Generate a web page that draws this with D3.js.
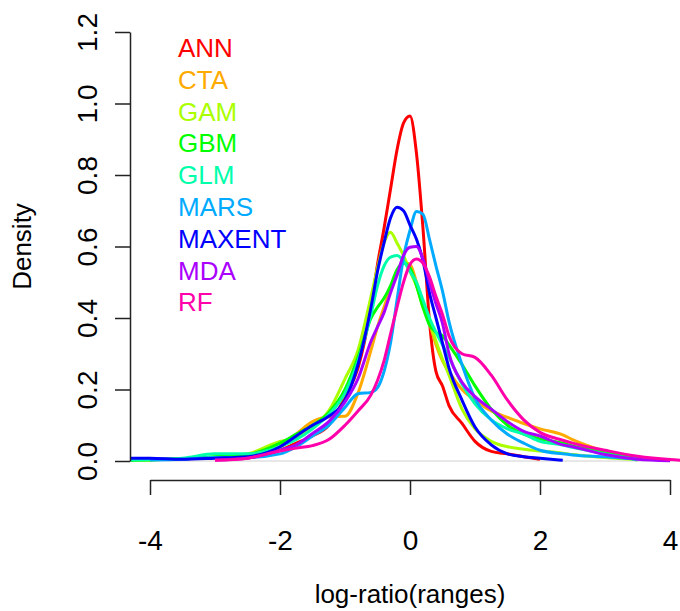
<!DOCTYPE html>
<html>
<head>
<meta charset="utf-8">
<script src="https://cdn.jsdelivr.net/npm/d3@7"></script>
<style>
  body { margin: 0; background: #fff; }
  text { font-family: "Liberation Sans", Arial, sans-serif; }
</style>
</head>
<body>
<div id="chart"></div>
<script>
// grid of x values (log-ratio of ranges) where the densities were read
var xGrid = [-4.3, -4, -3.5, -3, -2.5, -2, -1.75, -1.5, -1.25, -1, -0.8, -0.6, -0.5, -0.4, -0.3, -0.2, -0.1,
             0, 0.1, 0.2, 0.3, 0.4, 0.5, 0.6, 0.8, 1, 1.25, 1.5, 1.75, 2, 2.35, 2.5, 3, 3.5, 4, 4.2];

var models = ["ANN", "CTA", "GAM", "GBM", "GLM", "MARS", "MAXENT", "MDA", "RF"];
var colors = ["#FF0000", "#FFAA00", "#AAFF00", "#00FF00", "#00FFAA", "#00AAFF", "#0000FF", "#AA00FF", "#FF00AA"];

var ann    = [null, null, null, 0.004, 0.01, 0.03, 0.05, 0.07, 0.1, 0.18, 0.26, 0.43, 0.55, 0.65, 0.76, 0.87, 0.945,
              0.965, 0.86, 0.65, 0.39, 0.25, 0.21, 0.155, 0.105, 0.055, 0.027, 0.02, 0.012, 0.005, null, null, null, null, null, null];
var cta    = [null, null, null, null, 0.008, 0.04, 0.075, 0.11, 0.124, 0.125, 0.19, 0.31, 0.375, 0.43, 0.48, 0.52, 0.555,
              0.55, 0.5, 0.44, 0.385, 0.325, 0.28, 0.25, 0.2, 0.17, 0.14, 0.122, 0.105, 0.09, 0.073, 0.06, 0.027, 0.003, null, null];
var gam    = [0.002, 0.003, 0.006, 0.012, 0.02, 0.055, 0.065, 0.095, 0.14, 0.23, 0.31, 0.46, 0.54, 0.61, 0.64, 0.61, 0.575,
              0.53, 0.49, 0.43, 0.39, 0.335, 0.285, 0.24, 0.145, 0.09, 0.055, 0.04, 0.033, 0.028, 0.022, 0.018, 0.01, 0.004, null, null];
var gbm    = [0.002, 0.003, 0.006, 0.012, 0.018, 0.05, 0.075, 0.1, 0.135, 0.2, 0.29, 0.4, 0.43, 0.455, 0.49, 0.535, 0.553,
              0.54, 0.49, 0.43, 0.38, 0.36, 0.35, 0.325, 0.27, 0.21, 0.145, 0.1, 0.075, 0.062, 0.05, 0.042, 0.025, 0.01, 0.002, null];
var glm    = [0.003, 0.004, 0.008, 0.02, 0.02, 0.04, 0.06, 0.09, 0.13, 0.19, 0.28, 0.41, 0.49, 0.545, 0.57, 0.575, 0.56,
              0.53, 0.5, 0.45, 0.4, 0.36, 0.325, 0.29, 0.215, 0.16, 0.115, 0.09, 0.075, 0.055, 0.045, 0.038, 0.02, 0.003, null, null];
var mars   = [null, 0.003, 0.005, 0.01, 0.01, 0.02, 0.04, 0.07, 0.1, 0.15, 0.188, 0.192, 0.205, 0.25, 0.33, 0.45, 0.57,
              0.645, 0.698, 0.69, 0.62, 0.545, 0.475, 0.39, 0.27, 0.175, 0.115, 0.075, 0.05, 0.03, 0.02, 0.017, 0.012, 0.006, 0.002, null];
var maxent = [0.008, 0.008, 0.005, 0.008, 0.012, 0.04, 0.07, 0.1, 0.125, 0.17, 0.27, 0.43, 0.53, 0.61, 0.68, 0.71, 0.7,
              0.66, 0.62, 0.56, 0.47, 0.4, 0.33, 0.26, 0.17, 0.095, 0.045, 0.02, 0.012, 0.008, 0.002, null, null, null, null, null];
var mda    = [null, null, null, 0.003, 0.008, 0.03, 0.045, 0.077, 0.11, 0.165, 0.23, 0.335, 0.375, 0.415, 0.47, 0.52, 0.575,
              0.598, 0.6, 0.565, 0.5, 0.44, 0.385, 0.3, 0.22, 0.18, 0.145, 0.11, 0.083, 0.07, 0.045, 0.04, 0.018, 0.005, 0.001, null];
var rf     = [null, null, null, 0.002, 0.008, 0.028, 0.036, 0.043, 0.06, 0.1, 0.14, 0.185, 0.225, 0.28, 0.355, 0.43, 0.5,
              0.55, 0.565, 0.553, 0.515, 0.46, 0.41, 0.35, 0.3, 0.29, 0.24, 0.17, 0.115, 0.08, 0.058, 0.05, 0.03, 0.013, 0.004, 0.002];

var seriesValues = [ann, cta, gam, gbm, glm, mars, maxent, mda, rf];

var xTicks = [-4, -2, 0, 2, 4];
var yTicks = [0, 0.2, 0.4, 0.6, 0.8, 1.0, 1.2];

var W = 680, H = 611;

var svg = d3.select("#chart")
    .append("svg")
    .attr("width", W)
    .attr("height", H);

var x = d3.scaleLinear().domain([-4, 4]).range([150, 670]);
var y = d3.scaleLinear().domain([0, 1.2]).range([461, 32]);

// plot region (R clips the curves here)
var plotLeft = 130, plotRight = 684, plotTop = 15, plotBottom = 478;

svg.append("clipPath")
    .attr("id", "plotclip")
    .append("rect")
    .attr("x", plotLeft)
    .attr("y", plotTop)
    .attr("width", plotRight - plotLeft)
    .attr("height", plotBottom - plotTop);

// zero line
svg.append("line")
    .attr("x1", plotLeft)
    .attr("x2", plotRight)
    .attr("y1", y(0))
    .attr("y2", y(0))
    .attr("stroke", "#d0d0d0")
    .attr("stroke-width", 1);

// density curves
var line = d3.line()
    .defined(d => d[1] != null)
    .x(d => x(d[0]))
    .y(d => y(d[1]))
    .curve(d3.curveMonotoneX);

var curves = svg.append("g").attr("clip-path", "url(#plotclip)");

seriesValues.forEach(function(vals, i) {
  curves.append("path")
      .datum(xGrid.map((xv, j) => [xv, vals[j]]))
      .attr("fill", "none")
      .attr("stroke", colors[i])
      .attr("stroke-width", 3)
      .attr("stroke-linejoin", "round")
      .attr("d", line);
});

// x axis
var xAxis = svg.append("g")
    .attr("transform", "translate(0,480)")
    .call(d3.axisBottom(x).tickValues(xTicks).tickSize(15).tickSizeOuter(0).tickFormat(d => String(d)));

xAxis.selectAll("text")
    .attr("y", 70)
    .attr("dy", 0)
    .style("font-size", "28px")
    .attr("fill", "#000");

// y axis
var yAxis = svg.append("g")
    .attr("transform", "translate(130,0)")
    .call(d3.axisLeft(y).tickValues(yTicks).tickSize(15).tickSizeOuter(0).tickFormat(d3.format(".1f")));

yAxis.selectAll("text")
    .attr("x", 0)
    .attr("y", -33)
    .attr("dy", 0)
    .attr("text-anchor", "middle")
    .attr("transform", "rotate(-90)")
    .style("font-size", "28px")
    .attr("fill", "#000");

svg.selectAll(".domain, .tick line")
    .attr("stroke", "#222")
    .attr("stroke-width", 1.5);

// axis labels
svg.append("text")
    .attr("x", 410)
    .attr("y", 603)
    .attr("text-anchor", "middle")
    .style("font-size", "26px")
    .text("log-ratio(ranges)");

svg.append("text")
    .attr("text-anchor", "middle")
    .attr("transform", "translate(31," + ((y(0) + y(1.2)) / 2) + ") rotate(-90)")
    .style("font-size", "26px")
    .text("Density");

// legend
svg.append("g")
    .selectAll("text")
    .data(models)
    .enter().append("text")
    .attr("x", 178)
    .attr("y", (d, i) => 57 + i * 31.8)
    .attr("fill", (d, i) => colors[i])
    .style("font-size", "26px")
    .text(d => d);
</script>
</body>
</html>
